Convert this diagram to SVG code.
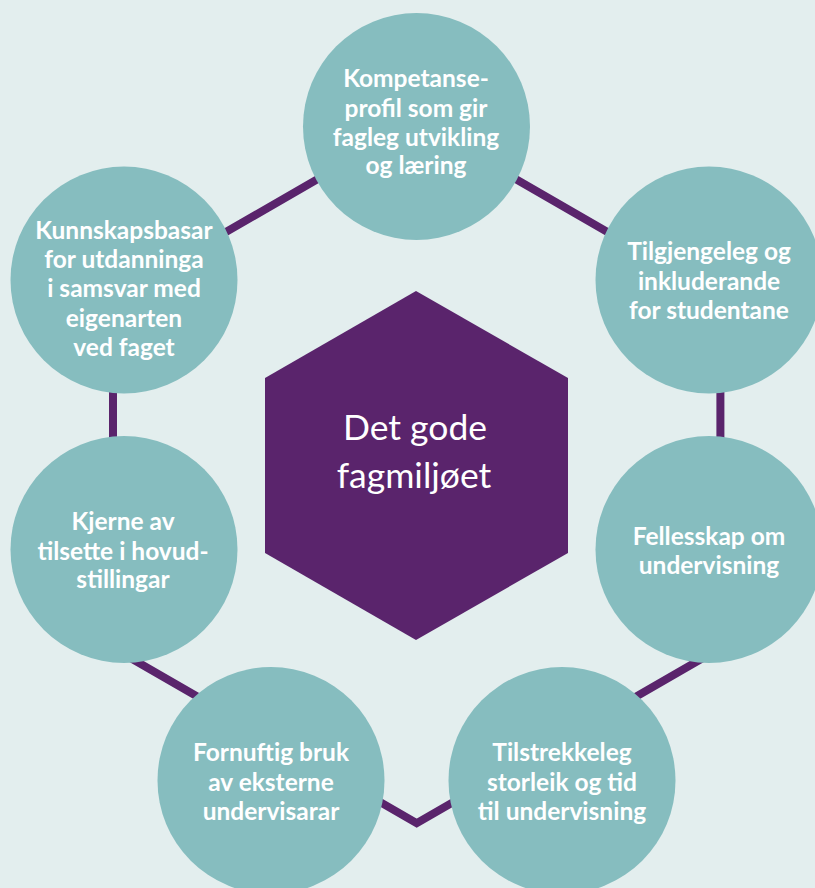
<svg xmlns="http://www.w3.org/2000/svg" width="815" height="888" viewBox="0 0 815 888">
<style>
.bg{fill:#e3eeee}
.node circle{fill:#86bdbf}
.lbl{font-family:Lato,"Open Sans","Liberation Sans",sans-serif;font-weight:700;font-size:24.5px;fill:#ffffff;text-anchor:middle}
.ctr{font-family:Lato,"Open Sans","Liberation Sans",sans-serif;font-weight:400;font-size:35.5px;fill:#ffffff;text-anchor:middle}
.ring{fill:none;stroke:#5a246c;stroke-width:8;stroke-linejoin:miter}
</style>
<rect class="bg" x="0" y="0" width="815" height="888"/>
<g id="connectors">
<polygon class="ring" points="416.7,121.8 720.4,297.2 720.4,647.9 416.7,823.2 113,647.9 113,297.2"/>
</g>
<g id="center">
<polygon points="416,291 568,378 568,553 416,640 265,553 265,378" fill="#5a246c"/>
<text class="ctr" x="415" y="440">Det gode</text>
<text class="ctr" x="414" y="488">fagmiljøet</text>
</g>
<g id="n1" class="node">
<circle cx="416.5" cy="126.5" r="113.5"/>
<text class="lbl" x="416" y="87">Kompetanse-</text>
<text class="lbl" x="416" y="116.5">profil som gir</text>
<text class="lbl" x="416" y="145.5">fagleg utvikling</text>
<text class="lbl" x="416" y="174">og læring</text>
</g>
<g id="n2" class="node">
<circle cx="709" cy="280" r="113.5"/>
<text class="lbl" x="709" y="260">Tilgjengeleg og</text>
<text class="lbl" x="709" y="289.5">inkluderande</text>
<text class="lbl" x="709" y="319">for studentane</text>
</g>
<g id="n3" class="node">
<circle cx="709" cy="549.5" r="113.5"/>
<text class="lbl" x="709" y="545">Fellesskap om</text>
<text class="lbl" x="709" y="574">undervisning</text>
</g>
<g id="n4" class="node">
<circle cx="562" cy="780.5" r="113.5"/>
<text class="lbl" x="562" y="761">Tilstrekkeleg</text>
<text class="lbl" x="562" y="790.5">storleik og tid</text>
<text class="lbl" x="562" y="820">til undervisning</text>
</g>
<g id="n5" class="node">
<circle cx="271" cy="780.5" r="113.5"/>
<text class="lbl" x="271" y="761">Fornuftig bruk</text>
<text class="lbl" x="271" y="790.5">av eksterne</text>
<text class="lbl" x="271" y="820">undervisarar</text>
</g>
<g id="n6" class="node">
<circle cx="124" cy="549.5" r="113.5"/>
<text class="lbl" x="123" y="530">Kjerne av</text>
<text class="lbl" x="123" y="559.5">tilsette i hovud-</text>
<text class="lbl" x="123" y="588">stillingar</text>
</g>
<g id="n7" class="node">
<circle cx="124" cy="280" r="113.5"/>
<text class="lbl" x="124" y="238.5">Kunnskapsbasar</text>
<text class="lbl" x="124" y="267.5">for utdanninga</text>
<text class="lbl" x="124" y="297">i samsvar med</text>
<text class="lbl" x="124" y="326.5">eigenarten</text>
<text class="lbl" x="124" y="355.5">ved faget</text>
</g>
</svg>
